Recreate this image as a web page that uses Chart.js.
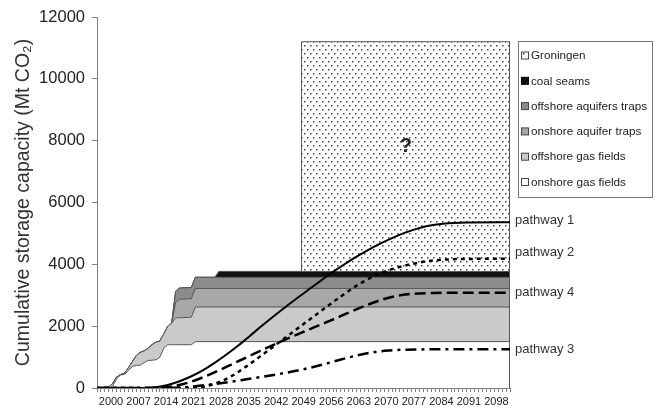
<!DOCTYPE html>
<html><head><meta charset="utf-8">
<script src="https://cdn.jsdelivr.net/npm/chart.js@4.4.0/dist/chart.umd.min.js"></script>
<style>html,body{margin:0;padding:0;background:#fff}</style>
</head><body>
<canvas id="c" width="657" height="410" style="width:657px;height:410px;display:block"></canvas>
<script>
// ---------- DATA ----------
const xTickLabels = ['2000','2007','2014','2021','2028','2035','2042','2049','2056','2063','2070','2077','2084','2091','2098'];
const yTickValues = [0,2000,4000,6000,8000,10000,12000];

const areaYears = [2000,2003,2004,2005,2006,2007,2008,2009,2010,2011,2012,2013,2014,2015,2016,2017,2018,2019,2020,2021,2024,2025,2030,2031,2052,2052,2105];
const onshoreGasFields      = [0,0,60,300,420,440,560,700,730,740,820,890,900,910,1000,1290,1400,1400,1400,1400,1400,1500,1500,1500,1500,1500,1500];
const offshoreGasFields     = [0,30,90,55,10,40,90,150,320,410,380,390,500,570,520,460,600,700,870,870,890,1120,1120,1120,1120,1120,1120];
const onshoreAquiferTraps   = [0,0,0,0,0,0,0,0,0,0,0,0,0,0,0,0,0,0,500,600,600,600,600,600,600,600,600];
const offshoreAquifersTraps = [0,0,0,0,0,0,0,0,0,0,0,0,0,0,0,0,0,0,360,360,360,360,360,360,360,360,360];
const coalSeams             = [0,0,0,0,0,0,0,0,0,0,0,0,0,0,0,0,0,0,0,0,0,0,0,190,190,190,190];
const groningen             = [0,0,0,0,0,0,0,0,0,0,0,0,0,0,0,0,0,0,0,0,0,0,0,0,0,7430,7430];

const pathway1Years = [2000,2012,2015,2018,2021,2024,2027,2030,2033,2036,2039,2042,2045,2048,2051,2054,2057,2060,2063,2066,2069,2072,2075,2078,2081,2084,2088,2094,2105];
const pathway1      = [0,0,25,100,220,380,580,820,1090,1380,1700,2020,2330,2630,2920,3200,3480,3760,4010,4250,4470,4670,4850,5010,5140,5240,5310,5350,5360];
const pathway2Years = [2000,2024,2027,2030,2034,2038,2042,2046,2050,2054,2058,2062,2066,2070,2074,2078,2082,2086,2092,2105];
const pathway2      = [0,0,40,140,370,700,1070,1450,1830,2210,2590,2960,3310,3590,3800,3950,4060,4130,4170,4180];
const pathway4Years = [2000,2016,2019,2022,2025,2028,2031,2034,2037,2040,2043,2046,2049,2052,2055,2058,2061,2064,2067,2070,2073,2076,2079,2082,2086,2092,2105];
const pathway4      = [0,0,50,130,250,400,570,750,930,1110,1290,1460,1630,1790,1950,2110,2270,2440,2600,2750,2880,2970,3030,3060,3075,3080,3080];
const pathway3Years = [2000,2018,2022,2026,2030,2034,2038,2042,2046,2050,2054,2058,2062,2066,2070,2074,2078,2084,2105];
const pathway3      = [0,0,25,70,130,200,280,360,445,540,650,780,920,1050,1150,1210,1238,1250,1252];

const layerNames = ['onshore gas fields','offshore gas fields','onshore aquifer traps','offshore aquifers traps','coal seams','Groningen'];
const layerValues = [onshoreGasFields, offshoreGasFields, onshoreAquiferTraps, offshoreAquifersTraps, coalSeams, groningen];

// ---------- STYLE ----------
const pc = document.createElement('canvas'); pc.width = 6; pc.height = 8;
const pctx = pc.getContext('2d');
pctx.fillStyle = '#ffffff'; pctx.fillRect(0,0,6,8);
pctx.fillStyle = '#444444'; pctx.fillRect(1,1,1.5,1.5); pctx.fillRect(4,5,1.5,1.5);
const dotPattern = document.getElementById('c').getContext('2d').createPattern(pc,'repeat');

const layerFills = ['#ffffff','#cacaca','#a8a8a8','#8c8c8c','#111111', dotPattern];
const FONT = '"Liberation Sans", Arial, sans-serif';

// cumulative tops
const cumul = [];
let running = areaYears.map(()=>0);
layerValues.forEach(arr => { running = running.map((v,i)=>v+arr[i]); cumul.push(running.slice()); });

const toPts = (xs, ys) => xs.map((x,i)=>({x:x, y:ys[i]}));

const datasets = [
  {label:'pathway 1', data:toPts(pathway1Years,pathway1), borderColor:'#000', borderWidth:2, fill:false, cubicInterpolationMode:'monotone'},
  {label:'pathway 2', data:toPts(pathway2Years,pathway2), borderColor:'#000', borderWidth:2.5, borderDash:[4,4], fill:false, cubicInterpolationMode:'monotone'},
  {label:'pathway 4', data:toPts(pathway4Years,pathway4), borderColor:'#000', borderWidth:2.5, borderDash:[11,5], fill:false, cubicInterpolationMode:'monotone'},
  {label:'pathway 3', data:toPts(pathway3Years,pathway3), borderColor:'#000', borderWidth:2.5, borderDash:[11,5,3,5], fill:false, cubicInterpolationMode:'monotone'},
];
layerNames.forEach((n,i)=>{
  datasets.push({label:n, data:toPts(areaYears,cumul[i]), borderColor:'#555', borderWidth:1,
    backgroundColor:layerFills[i], fill: i===0 ? 'origin' : '-1', tension:0});
});
const AREA_BOTTOM_INDEX = 4;

const extras = {
  id:'extras',
  afterDatasetDraw(chart, args){
    if (args.index !== AREA_BOTTOM_INDEX) return;
    const {ctx, scales:{x,y}} = chart;
    const lastI = areaYears.length-1;
    const px = Math.round(x.getPixelForValue(areaYears[lastI]))-0.5;
    ctx.save(); ctx.strokeStyle='#555'; ctx.lineWidth=1;
    ctx.beginPath(); ctx.moveTo(px, y.getPixelForValue(0)); ctx.lineTo(px, y.getPixelForValue(cumul[cumul.length-1][lastI])); ctx.stroke();
    ctx.restore();
  },
  afterDraw(chart){
    const {ctx, scales:{x,y}, chartArea} = chart;
    ctx.save();
    ctx.fillStyle='#222'; ctx.font='bold 20px '+FONT; ctx.textAlign='center'; ctx.textBaseline='middle';
    ctx.fillText('?', x.getPixelForValue(2078.5), y.getPixelForValue(7800));
    ctx.font='13px '+FONT; ctx.textAlign='left'; ctx.fillStyle='#333';
    const pl = [['pathway 1',pathway1,-2],['pathway 2',pathway2,-6],['pathway 4',pathway4,0],['pathway 3',pathway3,0]];
    pl.forEach(([t,arr,dy])=>{ ctx.fillText(t, chartArea.right+5, y.getPixelForValue(arr[arr.length-1])+dy); });
    ctx.strokeStyle='#777'; ctx.lineWidth=1;
    ctx.strokeRect(518.5, 41.5, 134, 156);
    ctx.font='11.7px '+FONT; ctx.textBaseline='middle';
    for (let k=0;k<6;k++){
      const li = 5-k;
      const cy = 56 + k*25.3;
      ctx.fillStyle = li===5 ? '#fff' : layerFills[li];
      ctx.fillRect(521.5, cy-4, 7, 7);
      ctx.strokeStyle = li===4 ? '#000' : '#444';
      ctx.strokeRect(521.5, cy-4, 7, 7);
      if (li===5){ ctx.fillStyle='#333'; ctx.fillRect(523,cy-3,1.5,1.5); }
      ctx.fillStyle='#222';
      ctx.fillText(layerNames[li], 531, cy);
    }
    ctx.restore();
  }
};

new Chart(document.getElementById('c'), {
  type:'line',
  data:{datasets},
  options:{
    responsive:false, animation:false, devicePixelRatio:1,
    layout:{padding:{top:17,right:147,bottom:0,left:0}},
    elements:{point:{radius:0}},
    plugins:{legend:{display:false}, tooltip:{enabled:false}},
    scales:{
      x:{type:'linear', min:2000, max:2105,
        afterFit(s){ s.height = 22; },
        border:{display:true, color:'#808080', width:1},
        grid:{display:true, drawOnChartArea:false, drawTicks:true, tickLength:4, color:'#808080'},
        ticks:{stepSize:1, autoSkip:false, maxRotation:0, minRotation:0, labelOffset:14, padding:3,
          font:{family:FONT, size:11}, color:'#222',
          callback:(v)=> xTickLabels.includes(String(v)) ? String(v) : ''}
      },
      y:{type:'linear', min:0, max:12000,
        afterFit(s){ s.width = 97; },
        afterBuildTicks(s){ s.ticks = yTickValues.map(v=>({value:v})); },
        border:{display:true, color:'#808080', width:1},
        grid:{display:true, drawOnChartArea:false, drawTicks:true, tickLength:5, color:'#808080'},
        ticks:{font:{family:FONT, size:16.5}, color:'#222', padding:7, callback:(v)=>String(v)},
        title:{display:true, text:'Cumulative storage capacity (Mt CO₂)', color:'#333',
          font:{family:FONT, size:19.5}, padding:{top:12,bottom:0}}
      }
    }
  },
  plugins:[extras]
});
</script>
</body></html>
